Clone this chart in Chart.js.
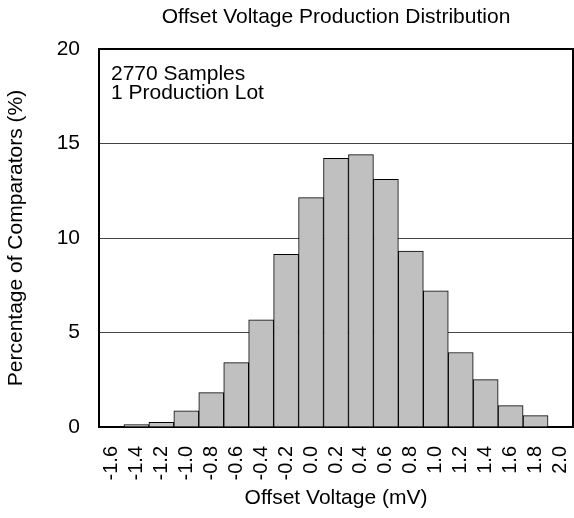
<!DOCTYPE html>
<html>
<head>
<meta charset="utf-8">
<script src="https://cdn.jsdelivr.net/npm/chart.js"></script>
<style>
  html, body { margin: 0; padding: 0; background: #fff; }
  #wrap { width: 574px; height: 518px; }
</style>
</head>
<body>
<div id="wrap"><canvas id="histChart"></canvas></div>
<script>
// bin centres (mV)
const binLabels = ["-1.6", "-1.4", "-1.2", "-1.0", "-0.8", "-0.6", "-0.4", "-0.2", "0.0",
  "0.2", "0.4", "0.6", "0.8", "1.0", "1.2", "1.4", "1.6", "1.8", "2.0"];
// percentage of comparators per bin
const percentValues = [0, 0.13, 0.25, 0.85, 1.82, 3.41, 5.67, 9.14, 12.14,
  14.22, 14.41, 13.11, 9.31, 7.21, 3.94, 2.51, 1.13, 0.6, 0];
const yTicks = [0, 5, 10, 15, 20];
const chartTitle = "Offset Voltage Production Distribution";
const noteLines = ["2770 Samples", "1 Production Lot"];

const FONT = "'Liberation Sans', Arial, sans-serif";
Chart.defaults.font.family = FONT;
Chart.defaults.color = "#000";

const ctx = document.getElementById("histChart").getContext("2d");

new Chart(ctx, {
  type: "bar",
  data: {
    labels: binLabels,
    datasets: [{
      data: percentValues,
      backgroundColor: "#c0c0c0",
      borderColor: "#000",
      borderWidth: 1,
      barPercentage: 1,
      categoryPercentage: 1,
    }],
  },
  options: {
    responsive: true,
    maintainAspectRatio: false,
    animation: false,
    layout: { padding: { top: 49, right: 1 } },
    plugins: {
      legend: { display: false },
      tooltip: { enabled: false },
      title: { display: false },
    },
    scales: {
      x: {
        // ticks hidden, only used to push the labels down
        grid: { display: false, drawTicks: true, tickLength: 19 },
        border: { display: true, color: "#000", width: 2 },
        ticks: {
          autoSkip: false,
          minRotation: 90,
          maxRotation: 90,
          padding: 0,
          font: { size: 20 },
          color: "#000",
        },
        title: {
          display: true,
          text: "Offset Voltage (mV)",
          font: { size: 21, lineHeight: 1.2 },
          color: "#000",
          padding: { top: 0, bottom: 7 },
        },
        afterFit: (scale) => {
          scale.height = 91;
          scale.paddingLeft = 0;
          scale.paddingRight = 0;
        },
      },
      y: {
        min: 0,
        max: 20,
        afterBuildTicks: (scale) => { scale.ticks = yTicks.map((v) => ({ value: v })); },
        grid: {
          drawTicks: false,
          color: (c) => (c.tick && (c.tick.value === 0 || c.tick.value === 20) ? "#000" : "#444"),
          lineWidth: (c) => (c.tick && c.tick.value === 20 ? 2 : 1),
        },
        border: { display: true, color: "#000", width: 2 },
        ticks: {
          padding: 19,
          font: { size: 21 },
          color: "#000",
        },
        title: {
          display: true,
          text: "Percentage of Comparators (%)",
          font: { size: 21, lineHeight: 1.2 },
          color: "#000",
          padding: { top: 4, bottom: 0 },
        },
        afterFit: (scale) => {
          scale.width = 99;
          scale.paddingTop = 0;
          scale.paddingBottom = 0;
        },
      },
    },
  },
  plugins: [
    {
      id: "frame_title_note",
      afterDraw: (chart) => {
        const { ctx, chartArea } = chart;
        ctx.save();
        // top and right edges of the plot box
        ctx.strokeStyle = "#000";
        ctx.lineWidth = 2;
        ctx.beginPath();
        ctx.moveTo(chartArea.left, chartArea.top);
        ctx.lineTo(chartArea.right, chartArea.top);
        ctx.lineTo(chartArea.right, chartArea.bottom);
        ctx.stroke();

        ctx.fillStyle = "#000";
        ctx.font = "21px " + FONT;
        ctx.textAlign = "center";
        ctx.textBaseline = "middle";
        ctx.fillText(chartTitle, (chartArea.left + chartArea.right) / 2, 17);

        ctx.textAlign = "left";
        ctx.textBaseline = "alphabetic";
        noteLines.forEach((line, i) => {
          ctx.fillText(line, chartArea.left + 12, chartArea.top + 31 + i * 18.5);
        });
        ctx.restore();
      },
    },
  ],
});
</script>
</body>
</html>
